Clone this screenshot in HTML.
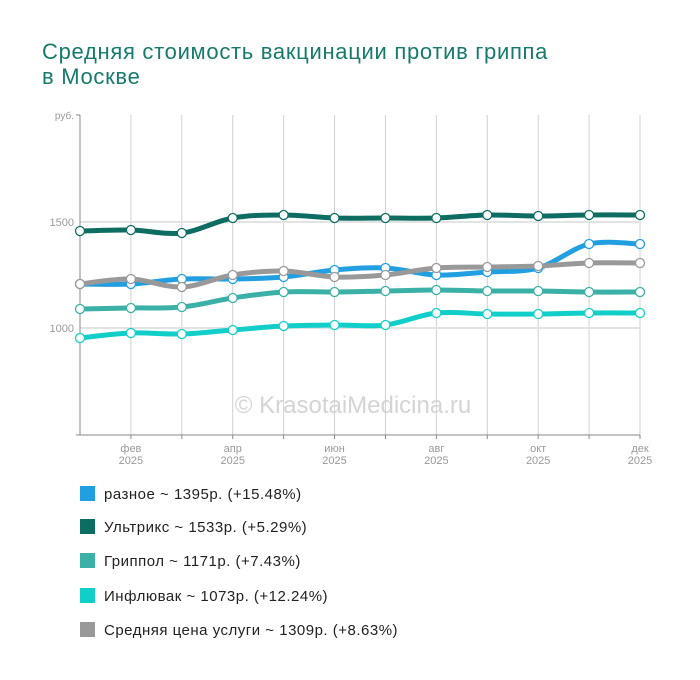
<!DOCTYPE html>
<html><head><meta charset="utf-8"><style>
body{margin:0;background:#fff;width:700px;height:680px;overflow:hidden;font-family:"Liberation Sans",sans-serif}
.t{position:absolute;left:42px;top:39px;font-size:22px;letter-spacing:0.7px;line-height:25px;color:#167a6c}
.lg{position:absolute;left:80px;font-size:15px;letter-spacing:0.5px;color:#222}
.lg span{display:inline-block;width:15px;height:15px;vertical-align:-2px;margin-right:9px}
</style></head><body>
<div class="t">Средняя стоимость вакцинации против гриппа<br>в Москве</div>
<svg id="s" width="700" height="680" style="position:absolute;left:0;top:0" font-family="Liberation Sans, sans-serif">
<g stroke="#d0d0d0" stroke-width="1" id="grid"></g>
<line x1="80" y1="222" x2="640" y2="222" stroke="#e3e3e3" stroke-width="2"/>
<line x1="80" y1="328" x2="640" y2="328" stroke="#e3e3e3" stroke-width="2"/>
<line x1="80" y1="115" x2="80" y2="435" stroke="#888"/>
<line x1="76" y1="435" x2="640" y2="435" stroke="#888"/>
<line x1="76" y1="115" x2="80" y2="115" stroke="#888"/>
<text x="74" y="119" font-size="10" fill="#999" text-anchor="end">руб.</text>
<text x="74" y="226" font-size="11" fill="#999" text-anchor="end">1500</text>
<text x="74" y="332" font-size="11" fill="#999" text-anchor="end">1000</text>
<text x="353" y="413" font-size="24" fill="#d4d4d4" text-anchor="middle">© KrasotaiMedicina.ru</text>
<g id="lab" font-size="11" fill="#999" text-anchor="middle"></g>
<g id="ser"></g>
</svg>
<div class="lg" style="top:486px"><span style="background:#229fe0"></span>разное ~ 1395р. (+15.48%)</div>
<div class="lg" style="top:519px"><span style="background:#0e6d62"></span>Ультрикс ~ 1533р. (+5.29%)</div>
<div class="lg" style="top:553px"><span style="background:#3bb0a6"></span>Гриппол ~ 1171р. (+7.43%)</div>
<div class="lg" style="top:588px"><span style="background:#11cfc8"></span>Инфлювак ~ 1073р. (+12.24%)</div>
<div class="lg" style="top:622px"><span style="background:#999"></span>Средняя цена услуги ~ 1309р. (+8.63%)</div>
<script>
var NS="http://www.w3.org/2000/svg";
var xs=[];for(var i=0;i<12;i++)xs.push(80+i*560/11);
var g=document.getElementById('grid'),lab=document.getElementById('lab'),ser=document.getElementById('ser');
function el(n,a,p){var e=document.createElementNS(NS,n);for(var k in a)e.setAttribute(k,a[k]);p.appendChild(e);return e}
for(var i=1;i<12;i++){el('line',{x1:xs[i],y1:115,x2:xs[i],y2:435},g);el('line',{x1:xs[i],y1:435,x2:xs[i],y2:439,stroke:'#888'},g)}
var m=['фев','апр','июн','авг','окт','дек'];
for(var j=0;j<6;j++){var x=xs[1+2*j];var t=el('text',{x:x,y:452},lab);t.textContent=m[j];t=el('text',{x:x,y:464},lab);t.textContent='2025'}
var S=[
['#999',[284,279,287,275,271,277,275,268,267,266,263,263]],
['#3bb0a6',[309,308,307,298,292,292,291,290,291,291,292,292]],
['#11cfc8',[338,333,334,330,326,325,325,313,314,314,313,313]],
['#229fe0',[284,284,279,279,277,270,268,275,272,268,244,244]],
['#0e6d62',[231,230,233,218,215,218,218,218,215,216,215,215]]];
S=[S[3],S[0],S[1],S[2],S[4]];
S.forEach(function(s){var y=s[1],d='M'+xs[0]+','+y[0];
for(var i=0;i<11;i++){var p0=i?i-1:i,p3=i<10?i+2:i+1;
var c1x=xs[i]+(xs[i+1]-xs[p0])/6,c1y=y[i]+(y[i+1]-y[p0])/6,c2x=xs[i+1]-(xs[p3]-xs[i])/6,c2y=y[i+1]-(y[p3]-y[i])/6;
d+=' C'+c1x+','+c1y+' '+c2x+','+c2y+' '+xs[i+1]+','+y[i+1]}
el('path',{d:d,fill:'none',stroke:s[0],'stroke-width':5,'stroke-linecap':'round'},ser);
for(var i=0;i<12;i++)el('circle',{cx:xs[i],cy:y[i],r:4.5,fill:'#fff',stroke:s[0],'stroke-width':1.3},ser)});
</script>
</body></html>
